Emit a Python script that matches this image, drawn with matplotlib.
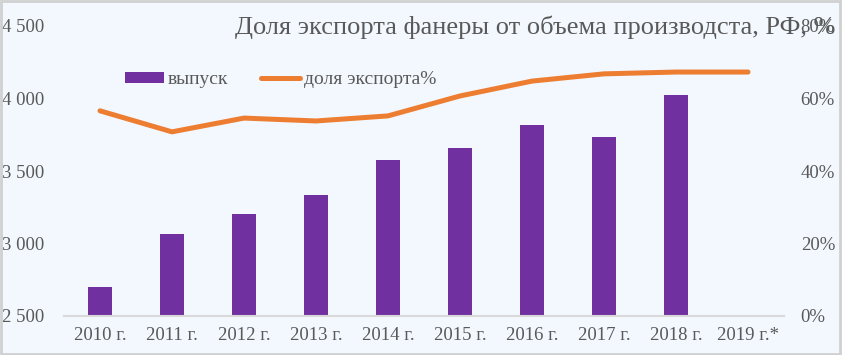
import matplotlib.pyplot as plt
import numpy as np

years = ['2010 г.', '2011 г.', '2012 г.', '2013 г.', '2014 г.', '2015 г.',
         '2016 г.', '2017 г.', '2018 г.', '2019 г.*']
output = [2700, 3065, 3205, 3335, 3575, 3660, 3815, 3735, 4025, np.nan]
export_share = [56.6, 50.8, 54.6, 53.8, 55.2, 60.7, 64.8, 66.8, 67.3, 67.3]

left_ticks = [2500, 3000, 3500, 4000, 4500]
left_labels = ['2 500', '3 000', '3 500', '4 000', '4 500']
right_ticks = [0, 20, 40, 60, 80]

bg = '#F2F8FE'
txt = '#595959'
plt.rcParams['font.family'] = ['Liberation Serif', 'DejaVu Serif']

fig = plt.figure(figsize=(8.42, 3.55), dpi=100, facecolor=bg)
fig.patches.append(plt.Rectangle((0.001, 0.002), 0.997, 0.995, transform=fig.transFigure,
                                 fill=False, edgecolor='#D0D0D0', linewidth=2))
ax = fig.add_axes([64/842, 1 - 316/355, 720/842, 290/355])
ax.set_facecolor(bg)
x = np.arange(len(years))
ax.bar(x, output, width=0.32, color='#7030A0', label='выпуск', zorder=2)
ax.set_ylim(2500, 4500)
ax.set_xlim(-0.5, len(years) - 0.5)
ax.set_yticks(left_ticks)
ax.set_yticklabels(left_labels)
ax.set_xticks(x)
ax.set_xticklabels(years)
for s in ['top', 'right', 'left']:
    ax.spines[s].set_visible(False)
ax.spines['bottom'].set_color('#D9D9D9')
ax.spines['bottom'].set_linewidth(1.5)
ax.tick_params(length=0, colors=txt, labelsize=13.5)
ax.tick_params(axis='y', pad=14)
ax.tick_params(axis='x', pad=8)

ax2 = ax.twinx()
ax2.plot(x, export_share, color='#ED7D31', linewidth=3.6, solid_capstyle='round',
         label='доля экспорта%', zorder=3)
ax2.set_ylim(0, 80)
ax2.set_yticks(right_ticks)
ax2.set_yticklabels([f'{t}%' for t in right_ticks])
for s in ['top', 'right', 'left', 'bottom']:
    ax2.spines[s].set_visible(False)
ax2.tick_params(length=0, colors=txt, labelsize=13.5, pad=12)

fig.text(835/842, 1 - 27/355, 'Доля экспорта фанеры от объема производста, РФ, %',
         ha='right', va='center', fontsize=19, color=txt)

h1, l1 = ax.get_legend_handles_labels()
h2, l2 = ax2.get_legend_handles_labels()
fig.legend(h1 + h2, l1 + l2, loc='center left', bbox_to_anchor=(125/842, 1 - 80/355),
           ncol=2, frameon=False, fontsize=14, labelcolor=txt, handlelength=2.0,
           handleheight=0.5, handletextpad=0.2, columnspacing=1.7, borderpad=0,
           borderaxespad=0)

fig.savefig('out.png', dpi=100, facecolor=bg)
